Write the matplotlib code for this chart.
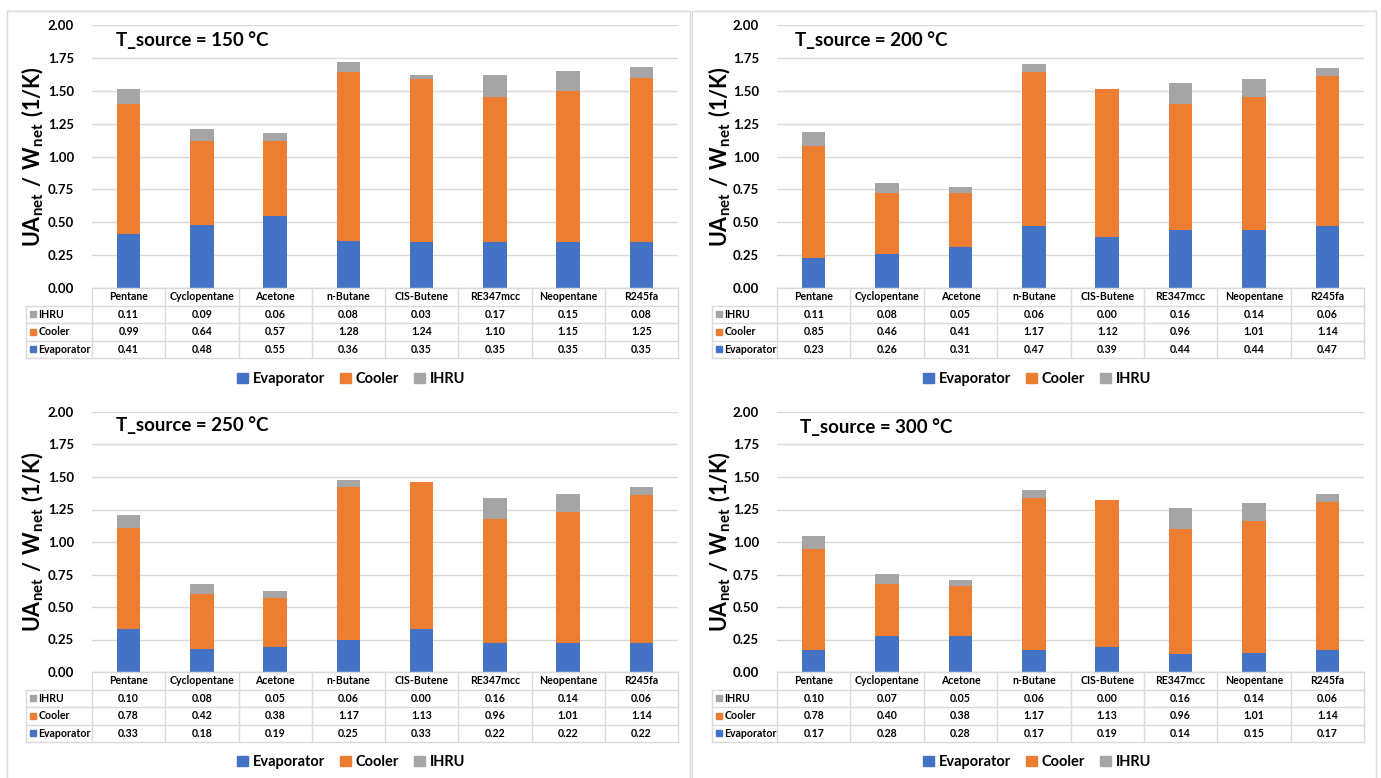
import numpy as np
import matplotlib
matplotlib.use('Agg')
import matplotlib.pyplot as plt
from matplotlib.patches import Rectangle, Patch

plt.rcParams['font.family'] = ['Lato', 'DejaVu Sans']
plt.rcParams['mathtext.fontset'] = 'custom'
plt.rcParams['mathtext.rm'] = 'Lato'
plt.rcParams['mathtext.bf'] = 'Lato:bold'

fluids = ['Pentane', 'Cyclopentane', 'Acetone', 'n-Butane', 'CIS-Butene',
          'RE347mcc', 'Neopentane', 'R245fa']

# UA/W per component, one set per source temperature
evap_150 = [0.41, 0.48, 0.55, 0.36, 0.35, 0.35, 0.35, 0.35]
cool_150 = [0.99, 0.64, 0.57, 1.28, 1.24, 1.10, 1.15, 1.25]
ihru_150 = [0.11, 0.09, 0.06, 0.08, 0.03, 0.17, 0.15, 0.08]

evap_200 = [0.23, 0.26, 0.31, 0.47, 0.39, 0.44, 0.44, 0.47]
cool_200 = [0.85, 0.46, 0.41, 1.17, 1.12, 0.96, 1.01, 1.14]
ihru_200 = [0.11, 0.08, 0.05, 0.06, 0.00, 0.16, 0.14, 0.06]

evap_250 = [0.33, 0.18, 0.19, 0.25, 0.33, 0.22, 0.22, 0.22]
cool_250 = [0.78, 0.42, 0.38, 1.17, 1.13, 0.96, 1.01, 1.14]
ihru_250 = [0.10, 0.08, 0.05, 0.06, 0.00, 0.16, 0.14, 0.06]

evap_300 = [0.17, 0.28, 0.28, 0.17, 0.19, 0.14, 0.15, 0.17]
cool_300 = [0.78, 0.40, 0.38, 1.17, 1.13, 0.96, 1.01, 1.14]
ihru_300 = [0.10, 0.07, 0.05, 0.06, 0.00, 0.16, 0.14, 0.06]

c_evap = '#4472C4'
c_cool = '#ED7D31'
c_ihru = '#A5A5A5'
c_grid = '#D9D9D9'

W, H = 1381, 778
fig = plt.figure(figsize=(W / 100, H / 100), dpi=100)


def box(x0, y0, x1, y1):
    return [x0 / W, 1 - y1 / H, (x1 - x0) / W, (y1 - y0) / H]


def panel(t, evap, cool, ihru, px0, px1, ptop, pbot, lab_x0, ylab_x, tx, ty, leg_x, leg_y):
    evap = np.array(evap)
    cool = np.array(cool)
    ihru = np.array(ihru)
    x = np.arange(len(fluids))

    ax = fig.add_axes(box(px0, ptop, px1, pbot))
    ax.bar(x, evap, 0.32, color=c_evap, zorder=3)
    ax.bar(x, cool, 0.32, bottom=evap, color=c_cool, zorder=3)
    ax.bar(x, ihru, 0.32, bottom=evap + cool, color=c_ihru, zorder=3)
    ax.set_xlim(-0.5, 7.5)
    ax.set_ylim(0, 2)
    ax.set_yticks(np.arange(0, 2.01, 0.25))
    ax.set_yticklabels(['%.2f' % v for v in np.arange(0, 2.01, 0.25)],
                       fontsize=9.5, fontweight='bold')
    ax.set_xticks([])
    ax.tick_params(axis='y', length=0, pad=13)
    ax.grid(axis='y', color=c_grid, lw=1)
    ax.set_axisbelow(True)
    for s in ax.spines.values():
        s.set_visible(False)
    ax.text((ylab_x - px0) / (px1 - px0), 0.5,
            r'$\mathbf{UA_{net}\ /\ W_{net}\ (1/K)}$',
            transform=ax.transAxes, rotation=90, ha='center', va='center',
            fontsize=15.5)
    fig.text(tx / W, 1 - ty / H, 'T_source = %d °C' % t, fontsize=13.5,
             fontweight='bold', ha='left', va='center')

    # data table under the bars
    colw = (px1 - px0) / 8
    xl = -0.5 - (px0 - lab_x0) / colw
    tab = fig.add_axes(box(lab_x0, pbot, px1, pbot + 70))
    tab.set_xlim(xl, 7.5)
    tab.set_ylim(4, 0)
    tab.axis('off')
    kw = dict(color=c_grid, lw=1, clip_on=False)
    tab.plot([-0.5, 7.5], [0, 0], **kw)
    for r in range(1, 5):
        tab.plot([xl, 7.5], [r, r], **kw)
    for i in range(9):
        tab.plot([i - 0.5, i - 0.5], [0, 4], **kw)
    tab.plot([xl, xl], [1, 4], **kw)
    for i, name in enumerate(fluids):
        tab.text(i, 0.5, name, ha='center', va='center', fontsize=7.6, fontweight='bold')
    rows = [('IHRU', ihru, c_ihru), ('Cooler', cool, c_cool), ('Evaporator', evap, c_evap)]
    for r, (name, vals, col) in enumerate(rows):
        y = r + 1.5
        tab.plot(xl + 0.1, y, marker='s', ms=4.5, color=col, clip_on=False)
        tab.text(xl + 0.17, y, name, ha='left', va='center', fontsize=7.6, fontweight='bold')
        for i, v in enumerate(vals):
            tab.text(i, y, '%.2f' % v, ha='center', va='center', fontsize=7.6, fontweight='bold')

    handles = [Patch(color=c_evap), Patch(color=c_cool), Patch(color=c_ihru)]
    fig.legend(handles, ['Evaporator', 'Cooler', 'IHRU'], loc='center',
               bbox_to_anchor=(leg_x / W, 1 - (leg_y + 1) / H), ncol=3, frameon=False,
               handlelength=0.75, handleheight=0.75, handletextpad=0.35,
               columnspacing=1.0, prop={'weight': 'bold', 'size': 10.5})


# chart frames
for x0, x1 in [(7, 690), (692, 1376)]:
    fig.add_artist(Rectangle((x0 / W, -0.05), (x1 - x0) / W, 1.05 - 11 / H,
                             transform=fig.transFigure, fill=False,
                             edgecolor=c_grid, lw=1))

panel(150, evap_150, cool_150, ihru_150, 92, 678, 25, 288, 26, 33, 116, 40, 351, 378)
panel(200, evap_200, cool_200, ihru_200, 777, 1364, 25, 288, 712, 720, 795, 40, 1037, 378)
panel(250, evap_250, cool_250, ihru_250, 92, 678, 412, 672, 26, 33, 116, 425, 351, 761)
panel(300, evap_300, cool_300, ihru_300, 777, 1364, 412, 672, 712, 720, 800, 427, 1037, 761)

fig.savefig('out.png', dpi=100)
